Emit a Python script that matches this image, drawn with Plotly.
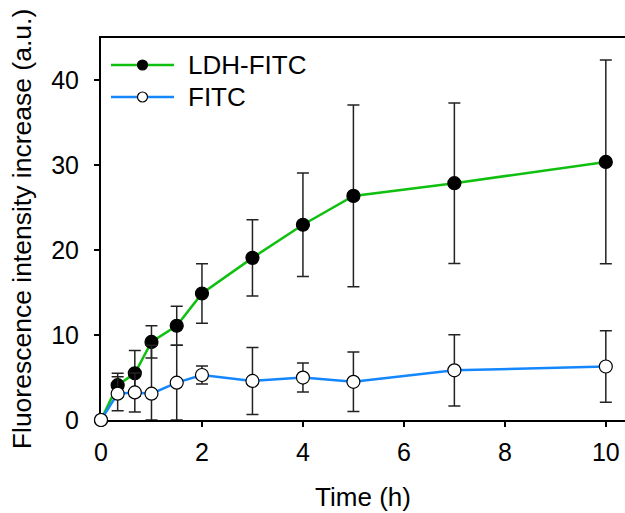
import numpy as np
import plotly.graph_objects as go

# Time points (h)
time_h = [0, 0.33, 0.67, 1, 1.5, 2, 3, 4, 5, 7, 10]

# Fluorescence intensity increase (a.u.) with standard deviations
# (the baseline point at t = 0 carries no error bar)
ldh_fitc = [0, 4.1, 5.5, 9.2, 11.1, 14.9, 19.1, 23.0, 26.4, 27.9, 30.4]
ldh_fitc_sd = [None, 1.4, 2.7, 1.9, 2.3, 3.5, 4.5, 6.1, 10.7, 9.45, 12.0]
fitc = [0, 3.1, 3.25, 3.1, 4.4, 5.3, 4.6, 5.0, 4.5, 5.85, 6.3]
fitc_sd = [None, 2.0, 2.3, 5.7, 4.4, 1.05, 3.95, 1.7, 3.5, 4.2, 4.2]

series_names = ["LDH-FITC", "FITC"]
line_colors = ["#10C010", "#1487FF"]
marker_fills = ["black", "white"]

x_ticks = [0, 2, 4, 6, 8, 10]
y_ticks = [0, 10, 20, 30, 40]

FONT = "Liberation Sans, Arial, sans-serif"
W, H = 625, 513
ML, MR, MT, MB = 101, 0, 38, 93

fig = go.Figure()

for name, y, sd, color, fill in zip(series_names, [ldh_fitc, fitc],
                                     [ldh_fitc_sd, fitc_sd], line_colors, marker_fills):
    y_arr = np.array(y, dtype=float)
    sd_arr = np.array([np.nan if v is None else v for v in sd], dtype=float)
    fig.add_trace(go.Scatter(
        x=time_h, y=y, name=name, mode="lines+markers",
        line=dict(color=color, width=2.5),
        marker=dict(size=13, color=fill, line=dict(color="black", width=1.2)),
        error_y=dict(type="data", symmetric=False, array=sd_arr,
                     arrayminus=np.minimum(sd_arr, y_arr),
                     color="#222222", thickness=1.5, width=6),
        cliponaxis=False, showlegend=False,
    ))

# Legend drawn as line + marker glyphs and labels inside the plot area
plot_w = W - ML - MR
plot_h = H - MT - MB


def px_to_paper(px, py):
    return (px - ML) / plot_w, (H - MB - py) / plot_h


legend_rows = [65, 97]
for name, color, fill, py in zip(series_names, line_colors, marker_fills, legend_rows):
    x0, yy = px_to_paper(111, py)
    x1, _ = px_to_paper(174, py)
    xm, _ = px_to_paper(142.5, py)
    xt, _ = px_to_paper(186, py)
    fig.add_shape(type="line", xref="paper", yref="paper", x0=x0, x1=x1, y0=yy, y1=yy,
                  line=dict(color=color, width=2.5))
    fig.add_shape(type="circle", xref="paper", yref="paper",
                  xsizemode="pixel", ysizemode="pixel",
                  xanchor=xm, yanchor=yy, x0=-5, x1=5, y0=-5, y1=5,
                  fillcolor=fill, line=dict(color="black", width=1.2))
    fig.add_annotation(x=xt, y=yy, xref="paper", yref="paper", text=name,
                       showarrow=False, xanchor="left", yanchor="middle",
                       font=dict(family=FONT, size=26, color="black"))

fig.update_layout(
    width=W, height=H,
    margin=dict(l=ML, r=MR, t=MT, b=MB),
    paper_bgcolor="white", plot_bgcolor="white",
    font=dict(family=FONT, color="black"),
    showlegend=False,
)

fig.update_xaxes(
    range=[0, 10.38], tickvals=x_ticks, ticktext=[str(v) for v in x_ticks],
    showgrid=False, zeroline=False, showline=True, linecolor="black", linewidth=2,
    mirror=True, ticks="outside", ticklen=5, tickwidth=1.5, tickcolor="black",
    layer="below traces",
    tickfont=dict(family=FONT, size=25), ticklabelstandoff=4,
    title=dict(text="Time (h)", font=dict(family=FONT, size=26), standoff=23),
)
fig.update_yaxes(
    range=[0, 45], tickvals=y_ticks, ticktext=[str(v) for v in y_ticks],
    showgrid=False, zeroline=False, showline=True, linecolor="black", linewidth=2,
    ticks="outside", ticklen=5, tickwidth=1.5, tickcolor="black",
    layer="below traces",
    tickfont=dict(family=FONT, size=25), ticklabelstandoff=10,
    title=dict(text="Fluorescence intensity increase (a.u.)",
               font=dict(family=FONT, size=26.5), standoff=12),
)

fig.write_html("out.html")
